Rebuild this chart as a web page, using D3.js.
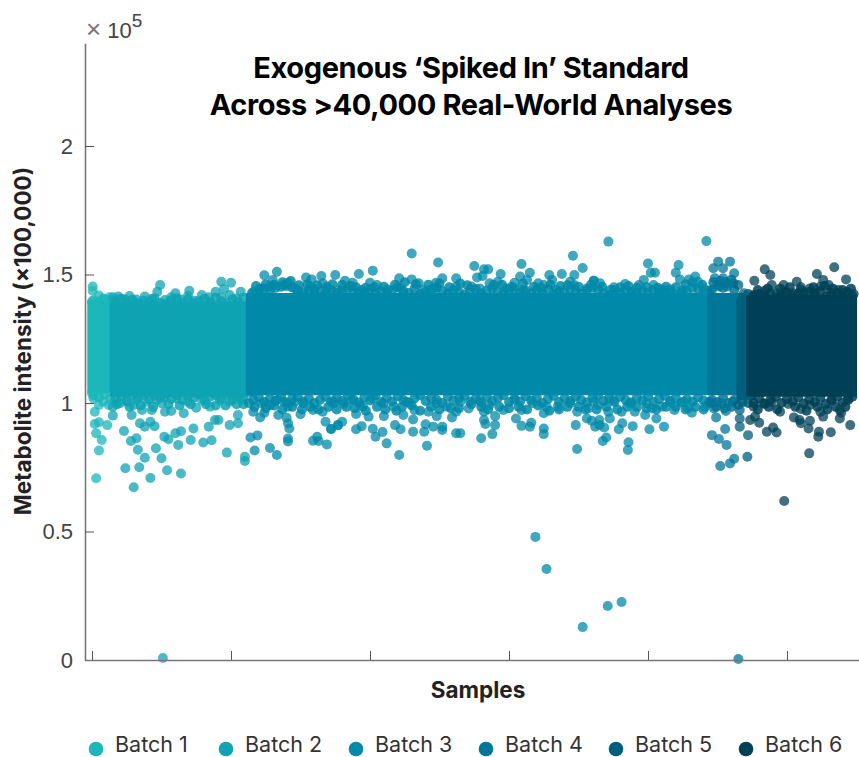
<!DOCTYPE html>
<html>
<head>
<meta charset="utf-8">
<title>Exogenous Spiked In Standard</title>
<script src="https://cdnjs.cloudflare.com/ajax/libs/d3/7.8.5/d3.min.js"></script>
<style>
  html, body { margin: 0; padding: 0; background: #fff; }
  svg { display: block; }
  .axis path { stroke: #777; stroke-width: 1.6; }
  .axis line { stroke: #555; stroke-width: 1; }
  .axis text { font-family: "Liberation Sans", Arial, sans-serif; font-size: 22px; fill: #444; }
</style>
</head>
<body>
<script>
//samples are in thousands, intensity is in units of 100,000
var batchNames = ["Batch 1", "Batch 2", "Batch 3", "Batch 4", "Batch 5", "Batch 6"];
var batchColors = ["#1BB7BB", "#11A3B3", "#0089A8", "#007698", "#005F7C", "#004156"];

//dense middle of each batch: first sample, last sample, low, high
var batchCores = [
  [0, 1.6, 1.055, 1.383],
  [1.6, 11.4, 1.043, 1.377],
  [11.4, 44.6, 1.048, 1.41],
  [44.6, 46.7, 1.048, 1.41],
  [46.7, 47.4, 1.03, 1.39],
  [47.4, 54.7, 1.043, 1.403]
];

//loose points, read one by one
var batch1Points = [[.3,.707],[.5,.815],[.7,.856],[.3,.882],[.2,.918],[.5,.925],[1.1,.914],[.2,.966],[.5,.992],
  [.05,1.453],[.05,1.437],[.5,1.418],[1.25,1.411],[0,1.394],[.8,1.407],[0,1.038],[.1,1.018],[.8,1.005],[1.2,.992]];

var batch2Points = [[1.5,.951],[2.3,.891],[3,.672],[2.4,.746],[3.4,.75],[4.2,.708],[5.4,.738],[6.4,.726],[2.8,.852],[3.2,.863],
  [3.3,.818],[3.8,.787],[4.6,.824],[5,.785],[5.2,.869],[5.5,.859],[6.2,.837],[6,.882],[6.4,.89],[7.1,.856],[7.3,.901],[8,.846],
  [8.6,.855],[8.4,.908],[8.85,.934],[9.1,.934],[9.9,.914],[10.5,.953],[10.5,.921],[9.7,.807],[11,.791],[11,.774],
  [2.85,.953],[3,.992],[3.45,.921],[4.2,.927],[3.8,.908],[4.5,.91],[4.3,.973],[3.6,.973],[5,.999],[5.25,1.022],[5.25,.966],
  [5.7,.969],[6.6,.96],[7.5,.982],[8.5,.986],[7.9,1.012],[6.9,1.005],[9.2,1.012],[9.9,1.005],[10.8,1.012],[2,.999],[1.5,.986],
  [2.5,1.005],[4.65,1.012],[6.1,1.018],[10.2,1.025],[3.2,1.012],[3.9,1.005],
  [1.9,1.414],[2.4,1.403],[2.7,1.416],[3.2,1.403],[3.8,1.414],[4.3,1.405],[4.7,1.433],[4.9,1.459],[5.25,1.401],[5.7,1.411],
  [6,1.427],[6.4,1.403],[7,1.437],[6.9,1.416],[7.4,1.398],[7.9,1.42],[8.4,1.411],[8.9,1.433],[9.3,1.472],[9.5,1.444],[10,1.468],
  [9.9,1.42],[10.7,1.433],[10.4,1.407],[9.3,1.411],[1.5,1.411],[5.1,.008]];

var batch3Points = [[12.4,1.497],[13.3,1.511],[13,1.479],[12.1,1.446],[12.8,1.453],[13.8,1.459],[14.1,1.468],[14.6,1.446],[15.4,1.488],
  [15.8,1.481],[16.5,1.494],[16.6,1.466],[17.5,1.498],[15.7,1.453],[16.9,1.453],[16,1.427],[11.5,1.427],[15,1.42],
  [11.4,.866],[11.9,.874],[11.7,.815],[12.8,.825],[13.3,.798],[14.1,.862],[14.1,.85],[15.9,.853],[16.2,.869],[16.3,.852],[16.9,.839],
  [17.2,.899],[16.8,.927],[15,.956],[14.2,.901],[14.1,.921],[13.4,.953],[14,.943],[12.1,.944],[12.4,.962],[11.6,.966],[12.8,.991],
  [17.7,.914],[11.3,.999],[12.2,.999],[14.1,.986],[15.9,.973],[16.6,.966],[13.8,1.005],[15.2,.999],[17.4,.999],[13.3,1.012],[14.6,1.005],
  [19.2,1.502],[20.2,1.515],[23,1.582],[24.9,1.547],[27.5,1.533],[28.2,1.52],[28.5,1.52],[27.7,1.488],[28.1,1.494],[29.4,1.502],
  [30.9,1.541],[31.5,1.507],[30.8,1.492],[32.9,1.498],[33.8,1.502],[34.6,1.573],[35.3,1.525],[34.7,1.498],[36.1,1.476],[18.2,1.476],
  [18.75,1.468],[20,1.468],[22.1,1.485],[23,1.481],[23.5,1.466],[25.2,1.485],[24.75,1.468],[26.2,1.485],[26.2,1.453],[29.2,1.472],
  [28.6,1.466],[30.4,1.468],[31.3,1.479],[32.1,1.466],[32.5,1.459],[33.1,1.479],[34.7,1.459],[34.4,1.472],[27.3,1.453],[22.2,1.446],
  [21.3,1.442],[20.5,1.459],[19.4,1.44],[17.8,1.44],[23.8,1.44],[24.6,1.446],[27.9,1.446],[29.8,1.446],[31,1.44],[33.4,1.44],[35.6,1.446],
  [22.1,.798],[24.1,.834],[21.2,.843],[20.4,.869],[20.9,.887],[20.2,.9],[19,.898],[19.4,.91],[18,.927],[17.7,.914],[17.2,.899],[21,.949],
  [19.9,.947],[19,.957],[19.5,.986],[21.8,.914],[22.2,.898],[22.4,.953],[23.1,.888],[23.1,.936],[23.9,.888],[24,.917],[24.55,.908],
  [24.8,.949],[25.2,.908],[25.2,.895],[26.2,.882],[26.5,.882],[25.9,.944],[26.2,.966],[28,.863],[28.8,.879],[29,.914],[28.2,.934],
  [28.3,.918],[28.2,.966],[29,.949],[30.5,.94],[30.9,.911],[31.5,.908],[31.6,.923],[32.5,.901],[32.5,.879],[32.5,.96],[34.8,.914],
  [34.9,.821],[35.6,.94],[36.2,.908],[36.5,.934],[35.7,.979],[34.9,.966],[33.5,.986],[30.9,.973],[29.6,.973],[27.1,.979],[25.5,.986],
  [24.2,.966],[23.2,.973],[21.7,.986],[20.95,.999],[18.1,.996],[18.7,1.012],[20.2,1.018],[22.6,1.005],[24.8,.999],[26.5,1.005],
  [28.6,.992],[31.7,.999],[32.7,.986],[34.4,.999],[36.1,1.005],[17.4,1.005],[19.3,.992],[27.9,1.012],[30.4,1.012],
  [37.15,1.628],[44.2,1.63],[40,1.543],[42.2,1.537],[40.2,1.507],[40.5,1.507],[42,1.507],[39.7,1.479],[40.4,1.459],[39.35,1.459],
  [38.35,1.463],[42.3,1.481],[42.95,1.481],[43.4,1.492],[43.6,1.472],[41.6,1.442],[41,1.442],[37.55,1.45],[36.55,1.466],[36.1,1.476],
  [38.8,1.433],[42.5,1.44],[44,1.446],[38.55,.817],[38.6,.847],[36.75,.852],[37,.866],[37.9,.898],[38.15,.921],[38.9,.91],[40.1,.898],
  [41.15,.908],[35.95,.931],[36.5,.914],[36.85,.905],[37.25,.94],[37.15,.966],[36.4,.992],[38.1,.966],[39.05,.966],[39.8,.953],
  [40.6,.94],[40.3,.979],[41.9,.973],[43.15,.962],[42.9,.979],[41,.986],[44.1,.986],[38.7,.999],[37.5,1.012],[41.6,1.005],[39.9,.999],
  [42.55,1.005],[31.9,.479],[32.7,.354],[35.3,.128],[37.1,.21],[38.1,.226]];

var batch4Points = [[45.05,1.55],[45.9,1.55],[44.7,1.524],[45.4,1.524],[46.2,1.505],[44.8,1.485],[45.4,1.485],[46.15,1.466],[45.1,1.453],
  [45.7,1.453],[44.6,.875],[45.1,.86],[45.55,.899],[45.65,.837],[45.2,.755],[45.9,.765],[46.2,.783],[44.9,.944],[45.6,.969],[44.75,.979],
  [45.3,.999],[46.1,1.005],[44.5,.999],[46.5,.004]];

var batch5Points = [[46.5,1.459],[46.9,1.427],[46.6,.908],[46.6,.94],[46.6,.973],[47.15,.791],[47.2,.875],[46.5,.992]];

var batch6Points = [[48.4,1.52],[48.8,1.498],[48.9,1.459],[47.65,1.476],[48.4,1.436],[47.6,1.42],[49.75,1.459],[49.85,1.433],[50.7,1.472],
  [51,1.45],[52.15,1.502],[52.6,1.479],[53,1.459],[53.4,1.528],[54.25,1.481],[53.7,1.44],[51.65,1.446],[52.4,1.453],[49.25,1.427],
  [50.45,1.427],[51.2,1.427],[52,1.427],[53.1,1.43],[54.8,1.424],[54.3,1.433],[47.35,.934],[47.7,.947],[48,.923],[48.55,.888],[49,.905],
  [49.25,.885],[50.5,.944],[50.9,.934],[51,.921],[51.55,.901],[51.65,.931],[52.3,.888],[52.25,.869],[53.15,.886],[51.6,.804],[54.55,.914],
  [53.8,.973],[53.9,.962],[53.8,.94],[52.6,.947],[52.4,.966],[51,.977],[50.1,.996],[49.5,.966],[48.3,.999],[47.6,.986],[51.65,.992],
  [54.4,1.018],[53.2,1.012],[48.9,1.005],[49.8,.619]];

//crowded points along the edges of the dense middle, top then bottom
var batch1Edge = [[.1,1.4],[.5,1.392],[.9,1.404],[1.3,1.396],[.1,1.03],[.5,1.022],[.9,1.034],[1.3,1.016]];

var batch2Edge = [[1.7,1.395],[2.1,1.406],[2.5,1.39],[2.9,1.402],[3.3,1.388],[3.7,1.398],[4.1,1.392],[4.5,1.408],[4.9,1.39],[5.3,1.385],[5.7,1.4],
  [6.1,1.408],[6.5,1.39],[6.9,1.404],[7.3,1.388],[7.7,1.396],[8.1,1.406],[8.5,1.392],[8.9,1.41],[9.3,1.396],[9.7,1.388],[10.1,1.404],[10.5,1.394],[10.9,1.41],
  [1.7,1.018],[2.1,1.026],[2.5,1.01],[2.9,1.03],[3.3,1.022],[3.7,1.032],[4.1,1.014],[4.5,1.028],[4.9,1.02],[5.3,1.034],[5.7,1.016],
  [6.1,1.03],[6.5,1.012],[6.9,1.028],[7.3,1.02],[7.7,1.033],[8.1,1.01],[8.5,1.024],[8.9,1.03],[9.3,1.018],[9.7,1.032],[10.1,1.012],[10.5,1.026],[10.9,1.02],
  [1.8,.995],[2.7,.985],[3.5,.99],[4.4,.985],[5.5,.995],[6.3,.99],[7.1,.995],[8.2,.995],[8.9,.99],[9.6,.99],[10.4,.995],[10.9,.995]];

var batch3Edge = [[11.6,1.432],[12,1.44],[12.4,1.445],[12.8,1.436],[13.2,1.448],[13.6,1.452],[14,1.455],[14.4,1.45],[14.8,1.44],[15.2,1.43],[15.6,1.44],[16,1.444],
  [16.4,1.436],[16.8,1.428],[17.2,1.44],[17.6,1.428],[18,1.436],[18.4,1.446],[18.8,1.44],[19.2,1.426],[19.6,1.43],[20,1.442],[20.4,1.428],[20.8,1.436],
  [21.2,1.422],[21.6,1.438],[22,1.45],[22.4,1.436],[22.8,1.428],[23.2,1.444],[23.6,1.424],[24,1.432],[24.4,1.442],[24.8,1.448],[25.2,1.436],[25.6,1.426],
  [26,1.44],[26.4,1.432],[26.8,1.422],[27.2,1.44],[27.6,1.444],[28,1.426],[28.4,1.438],[28.8,1.446],[29.2,1.434],[29.6,1.424],[30,1.44],[30.4,1.444],
  [30.8,1.43],[31.2,1.438],[31.6,1.426],[32,1.44],[32.4,1.43],[32.8,1.444],[33.2,1.424],[33.6,1.436],[34,1.428],[34.4,1.444],[34.8,1.436],[35.2,1.424],
  [35.6,1.44],[36,1.448],[36.4,1.44],[36.8,1.426],[37.2,1.42],[37.6,1.44],[38,1.428],[38.4,1.442],[38.8,1.422],[39.2,1.43],[39.6,1.44],[40,1.428],
  [40.4,1.44],[40.8,1.432],[41.2,1.438],[41.6,1.43],[42,1.422],[42.4,1.43],[42.8,1.436],[43.2,1.448],[43.6,1.444],[44,1.432],[44.4,1.438],
  [11.8,1.455],[12.5,1.462],[13.1,1.46],[13.7,1.47],[14.3,1.475],[14.9,1.458],[15.5,1.462],[16.2,1.458],[16.9,1.445],[17.3,1.462],[18,1.46],[18.6,1.455],
  [19,1.45],[19.7,1.448],[20.3,1.45],[21,1.452],[21.8,1.46],[22.5,1.47],[23.3,1.462],[24.2,1.46],[25,1.465],[25.7,1.45],[26.5,1.465],[27,1.458],[28.9,1.46],
  [29.5,1.46],[30.2,1.452],[31,1.465],[31.8,1.452],[32.3,1.448],[33,1.46],[33.7,1.455],[34.2,1.458],[35,1.452],[35.9,1.46],[36.7,1.452],[37.3,1.44],[38,1.45],
  [38.6,1.455],[39.2,1.448],[39.9,1.45],[40.7,1.448],[41.3,1.452],[42,1.45],[42.7,1.462],[43.2,1.47],[43.9,1.46],
  [11.6,1.012],[12,1.022],[12.4,1.004],[12.8,1.018],[13.2,1.008],[13.6,1.026],[14,1.002],[14.4,1.016],[14.8,1.024],[15.2,1.006],[15.6,1.018],[16,1.0],
  [16.4,1.012],[16.8,1.024],[17.2,1.006],[17.6,1.02],[18,1.008],[18.4,1.028],[18.8,1.014],[19.2,1.002],[19.6,1.022],[20,1.01],[20.4,1.03],[20.8,1.004],
  [21.2,1.02],[21.6,1.006],[22,1.026],[22.4,1.012],[22.8,1.002],[23.2,1.018],[23.6,1.03],[24,1.008],[24.4,1.02],[24.8,1.012],[25.2,1.0],[25.6,1.024],
  [26,1.01],[26.4,1.018],[26.8,1.028],[27.2,1.006],[27.6,1.016],[28,1.002],[28.4,1.024],[28.8,1.008],[29.2,1.02],[29.6,1.03],[30,1.004],[30.4,1.018],
  [30.8,1.006],[31.2,1.026],[31.6,1.01],[32,1.02],[32.4,1.0],[32.8,1.016],[33.2,1.028],[33.6,1.004],[34,1.018],[34.4,1.008],[34.8,1.024],[35.2,1.012],
  [35.6,1.002],[36,1.02],[36.4,1.03],[36.8,1.008],[37.2,1.018],[37.6,1.004],[38,1.024],[38.4,1.012],[38.8,1.002],[39.2,1.02],[39.6,1.01],[40,1.026],
  [40.4,1.004],[40.8,1.016],[41.2,1.028],[41.6,1.008],[42,1.02],[42.4,1.002],[42.8,1.014],[43.2,1.006],[43.6,1.022],[44,1.01],[44.4,1.004],
  [11.7,.985],[12.5,.98],[13.1,.99],[13.7,.975],[14.4,.985],[15.1,.975],[15.7,.985],[16.3,.975],[17,.985],[17.6,.975],[18.3,.985],[18.9,.98],[19.7,.97],
  [20.5,.985],[21.1,.975],[21.9,.97],[22.3,.985],[23,.99],[23.6,.97],[24.4,.985],[25,.975],[25.8,.98],[26.4,.98],[27.3,.995],[28,.985],[28.5,.975],[29.3,.985],
  [30,.98],[30.7,.985],[31.3,.975],[32.1,.99],[32.9,.97],[33.6,.975],[34.2,.985],[35,.985],[35.5,.975],[36.3,.975],[37,.985],[37.8,.975],[38.5,.985],
  [39.2,.985],[39.9,.98],[40.6,.975],[41.3,.985],[42,.985],[42.7,.975],[43.4,.985],[44,.975]];

var batch4Edge = [[44.6,1.44],[45,1.46],[45.4,1.448],[45.8,1.464],[46.2,1.44],[44.7,1.47],[45.2,1.475],[45.6,1.47],[46,1.48],
  [44.6,1.012],[45,1.004],[45.4,1.02],[45.8,1.0],[46.2,1.012],[44.9,.985],[45.5,.98],[46,.985]];

var batch5Edge = [[46.8,1.41],[47.2,1.424],[46.8,1.004],[47.2,1.0]];

var batch6Edge = [[47.6,1.415],[48,1.424],[48.4,1.416],[48.8,1.428],[49.2,1.41],[49.6,1.422],[50,1.43],[50.4,1.416],[50.8,1.426],[51.2,1.41],[51.6,1.432],[52,1.42],
  [52.4,1.436],[52.8,1.414],[53.2,1.424],[53.6,1.428],[54,1.412],[54.4,1.426],[54.7,1.418],
  [47.9,1.44],[48.6,1.445],[49.5,1.445],[50.2,1.45],[51,1.44],[51.9,1.45],[52.7,1.455],[53.3,1.445],[54,1.44],[54.6,1.445],
  [47.6,1.0],[48,1.018],[48.4,.996],[48.8,1.012],[49.2,1.024],[49.6,1.0],[50,1.016],[50.4,1.006],[50.8,1.022],[51.2,.998],[51.6,1.014],[52,1.004],
  [52.4,1.02],[52.8,.996],[53.2,1.01],[53.6,1.024],[54,1.002],[54.4,1.012],[54.7,1.024],
  [47.9,.975],[48.7,.985],[49.3,.975],[50.6,.985],[51.4,.97],[52.2,.985],[52.9,.975],[53.5,.985],[54.2,.985]];

var allPoints = [batch1Points, batch2Points, batch3Points, batch4Points, batch5Points, batch6Points];
var allEdges = [batch1Edge, batch2Edge, batch3Edge, batch4Edge, batch5Edge, batch6Edge];
var yTicks = [0, 0.5, 1, 1.5, 2];
var xTicks = [0, 10, 20, 30, 40, 50];
var titleLines = ["Exogenous \u2018Spiked In\u2019 Standard", "Across >40,000 Real-World Analyses"];

window.onload = function(){
  var w = 859, h = 757, r = 5;

  var svg = d3.select("body").append("svg")
    .attr("width", w)
    .attr("height", h);

  //soften the marks a little, the reference is a scaled-up image
  svg.append("defs").append("filter")
    .attr("id", "soft")
    .append("feGaussianBlur")
    .attr("stdDeviation", 0.7);

  var x = d3.scaleLinear().domain([-0.504, 55.18]).range([85, 859]);
  var y = d3.scaleLinear().domain([0, 2.4]).range([660, 43.2]);

  function drawPoints(group, points, color, opacity){
    group.append("g").selectAll("circle")
      .data(points)
      .enter()
      .append("circle")
      .attr("cx", function(d){ return x(d[0]); })
      .attr("cy", function(d){ return y(d[1]); })
      .attr("r", r)
      .style("fill", color)
      .style("fill-opacity", opacity);
  }

  //points first then the solid middle, one batch over the other
  var plot = svg.append("g").attr("filter", "url(#soft)");
  batchNames.forEach(function(name, i){
    drawPoints(plot, allPoints[i], batchColors[i], 0.75);
    drawPoints(plot, allEdges[i], batchColors[i], 0.85);
    var core = batchCores[i];
    plot.append("rect")
      .attr("x", x(core[0]) - 4.7)
      .attr("y", y(core[3]) - 4.7)
      .attr("width", x(core[1]) - x(core[0]) + 9.4)
      .attr("height", y(core[2]) - y(core[3]) + 9.4)
      .attr("rx", 1.5)
      .style("fill", batchColors[i]);
  });

  svg.append("g")
    .attr("class", "axis")
    .attr("transform", "translate(85,0)")
    .call(d3.axisLeft(y).tickValues(yTicks).tickSize(-9).tickSizeOuter(0).tickPadding(12).tickFormat(d3.format("~g")));

  svg.append("g")
    .attr("class", "axis")
    .attr("transform", "translate(0,660)")
    .call(d3.axisBottom(x).tickValues(xTicks).tickSize(-9).tickSizeOuter(0).tickFormat(""));

  //the x 10^5 exponent label
  var exponent = svg.append("text")
    .attr("x", 86)
    .attr("y", 38)
    .style("font-family", "Liberation Sans, Arial, sans-serif")
    .style("font-size", "22px")
    .style("fill", "#444");
  exponent.append("tspan").style("fill", "#777").style("font-size", "26px").text("\u00D7");
  exponent.append("tspan").attr("dx", 6).text("10");
  exponent.append("tspan").attr("dy", -11).style("font-size", "19px").text("5");

  svg.selectAll(".title")
    .data(titleLines)
    .enter()
    .append("text")
    .attr("class", "title")
    .attr("text-anchor", "middle")
    .attr("x", 471)
    .attr("y", function(d, i){ return 78 + i * 37; })
    .style("font-family", "Inter, sans-serif")
    .style("font-weight", 700)
    .style("font-size", "29px")
    .style("letter-spacing", "-0.4px")
    .style("fill", "#000")
    .text(function(d){ return d; });

  svg.append("text")
    .attr("text-anchor", "middle")
    .attr("transform", "translate(31,341) rotate(-90)")
    .style("font-family", "Inter, sans-serif")
    .style("font-weight", 700)
    .style("font-size", "22.5px")
    .style("fill", "#222")
    .text("Metabolite intensity (\u00D7100,000)");

  svg.append("text")
    .attr("text-anchor", "middle")
    .attr("x", 478)
    .attr("y", 698)
    .style("font-family", "Inter, sans-serif")
    .style("font-weight", 700)
    .style("font-size", "22.5px")
    .style("fill", "#222")
    .text("Samples");

  //legend along the bottom
  var legend = svg.selectAll(".legend")
    .data(batchNames)
    .enter()
    .append("g")
    .attr("class", "legend")
    .attr("transform", function(d, i){ return "translate(" + (96 + i * 130) + ",749)"; });
  legend.append("circle")
    .attr("r", 7.3)
    .style("fill", function(d, i){ return batchColors[i]; });
  legend.append("text")
    .attr("x", 19)
    .attr("y", 2.5)
    .style("font-family", "Inter, sans-serif")
    .style("font-size", "21.5px")
    .style("fill", "#333")
    .text(function(d){ return d; });
};
</script>
</body>
</html>
